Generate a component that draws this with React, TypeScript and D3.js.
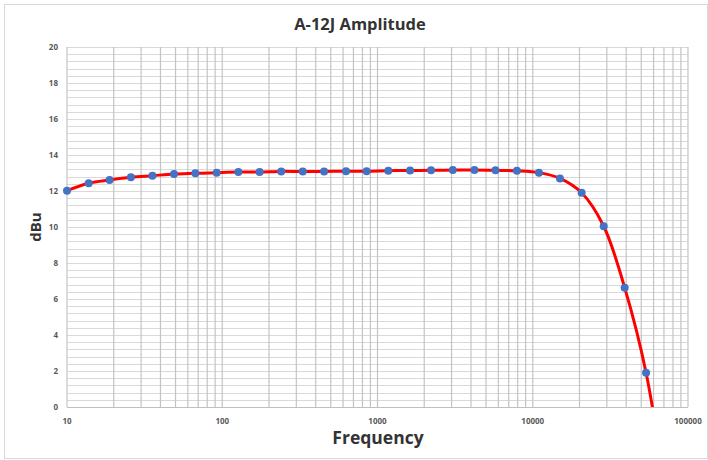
import { useMemo } from "react";
import * as d3 from "d3";

const WIDTH = 708;
const HEIGHT = 460;
const MARGIN = { top: 47, right: 20, bottom: 53, left: 67 };

// measured points (Hz, dBu); the last one lies below the axis and is clipped
const frequencies = [
  10, 13.8, 18.8, 25.8, 35.5, 48.9, 67.1, 92.1, 127, 174, 240, 330, 453, 627,
  851, 1174, 1621, 2213, 3055, 4212, 5754, 7907, 10965, 14970, 20650, 28640,
  39090, 53700, 73800,
];
const levels = [
  12.02, 12.43, 12.61, 12.76, 12.85, 12.94, 12.98, 13.02, 13.05, 13.06, 13.09,
  13.08, 13.09, 13.1, 13.1, 13.13, 13.14, 13.15, 13.16, 13.17, 13.15, 13.12,
  13.02, 12.7, 11.9, 10.04, 6.63, 1.9, -5.5,
];
const xTicks = [10, 100, 1000, 10000, 100000];
const yTicks = [0, 2, 4, 6, 8, 10, 12, 14, 16, 18, 20];

const FONT = "'Open Sans', 'Noto Sans', sans-serif";

const App = () => {
  const boundsWidth = 688 - MARGIN.left;
  const boundsHeight = HEIGHT - MARGIN.top - MARGIN.bottom;

  const data = frequencies.map((f, i) => ({ x: f, y: levels[i] }));

  const xScale = useMemo(
    () => d3.scaleLog().domain([10, 100000]).range([0, boundsWidth]),
    [boundsWidth]
  );
  const yScale = useMemo(
    () => d3.scaleLinear().domain([0, 20]).range([boundsHeight, 0]),
    [boundsHeight]
  );

  // minor log grid: 1..9 in each decade
  const vGrid: number[] = [];
  for (let d = 10; d < 100000; d *= 10) {
    for (let k = 1; k <= 9; k++) vGrid.push(d * k);
  }
  vGrid.push(100000);
  const hGrid = d3.range(0, 50 + 1).map((i) => i * 0.4);

  const linePath =
    d3
      .line<{ x: number; y: number }>()
      .x((d) => xScale(d.x))
      .y((d) => yScale(d.y))
      .curve(d3.curveCatmullRom.alpha(0.5))(data) || "";

  const visible = data.filter((d) => d.y >= 0);

  return (
    <svg
      width={WIDTH}
      height={HEIGHT}
      style={{ position: "absolute", left: 0, top: 0, background: "#fff" }}
    >
      <rect x={4.5} y={4.5} width={703} height={454} fill="#fff" stroke="#d9d9d9" />
      <defs>
        <clipPath id="plot">
          <rect x={0} y={0} width={boundsWidth} height={boundsHeight} />
        </clipPath>
      </defs>
      <text
        x={360}
        y={30}
        textAnchor="middle"
        fontFamily={FONT}
        fontWeight="bold"
        fontSize={16.5}
        fill="#333"
      >
        A-12J Amplitude
      </text>
      <g transform={`translate(${MARGIN.left},${MARGIN.top})`}>
        {hGrid.map((v) => (
          <line
            key={"h" + v}
            x1={0}
            x2={boundsWidth}
            y1={Math.round(yScale(v)) + 0.5}
            y2={Math.round(yScale(v)) + 0.5}
            stroke="#d9d9d9"
            strokeWidth={1.2}
          />
        ))}
        {vGrid.map((v) => (
          <line
            key={"v" + v}
            y1={0}
            y2={boundsHeight}
            x1={xScale(v)}
            x2={xScale(v)}
            stroke="#c4c4c4"
            strokeWidth={1.2}
          />
        ))}
        <line
          x1={0}
          x2={boundsWidth}
          y1={boundsHeight + 0.5}
          y2={boundsHeight + 0.5}
          stroke="#bfbfbf"
          strokeWidth={1.2}
        />
        {yTicks.map((t) => (
          <text
            key={"yt" + t}
            x={-9}
            y={yScale(t)}
            dy="0.35em"
            textAnchor="end"
            fontFamily={FONT}
            fontWeight="bold"
            fontSize={8}
            fill="#595959"
          >
            {t}
          </text>
        ))}
        {xTicks.map((t) => (
          <text
            key={"xt" + t}
            x={xScale(t)}
            y={boundsHeight + 17}
            textAnchor="middle"
            fontFamily={FONT}
            fontWeight="bold"
            fontSize={8}
            fill="#595959"
          >
            {t}
          </text>
        ))}
        <g clipPath="url(#plot)">
          <path d={linePath} fill="none" stroke="#ff0000" strokeWidth={3} />
        </g>
        {visible.map((d, i) => (
          <circle
            key={"p" + i}
            cx={xScale(d.x)}
            cy={yScale(d.y)}
            r={4}
            fill="#4472c4"
          />
        ))}
      </g>
      <text
        x={378}
        y={444}
        textAnchor="middle"
        fontFamily={FONT}
        fontWeight="bold"
        fontSize={17.5}
        fill="#333"
      >
        Frequency
      </text>
      <text
        transform={`translate(41,227) rotate(-90)`}
        textAnchor="middle"
        fontFamily={FONT}
        fontWeight="bold"
        fontSize={15}
        fill="#333"
      >
        dBu
      </text>
    </svg>
  );
};

export default App;
